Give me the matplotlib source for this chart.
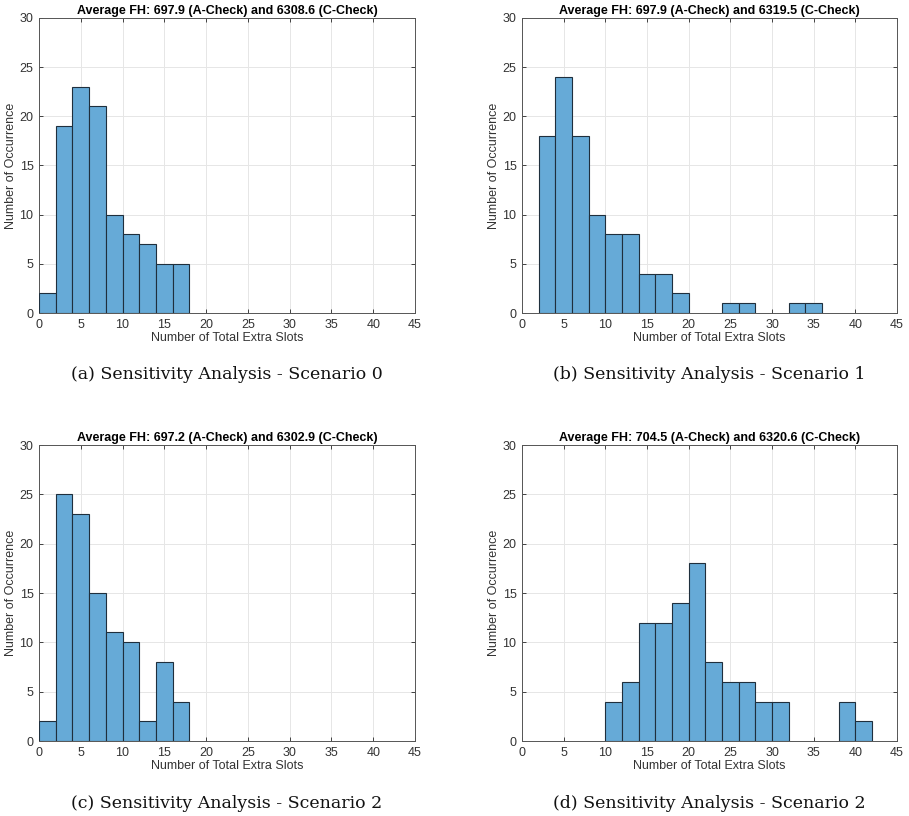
"""Histograms of total extra slots for the sensitivity-analysis scenarios."""
import numpy as np
import matplotlib
matplotlib.use("Agg")
import matplotlib.pyplot as plt

BIN_WIDTH = 2

# counts per 2-slot bin, starting at the given left edge
start_a = 0
counts_a = [2, 19, 23, 21, 10, 8, 7, 5, 5]
start_b = 2
counts_b = [18, 24, 18, 10, 8, 8, 4, 4, 2, 0, 0, 1, 1, 0, 0, 1, 1]
start_c = 0
counts_c = [2, 25, 23, 15, 11, 10, 2, 8, 4]
start_d = 10
counts_d = [4, 6, 12, 12, 14, 18, 8, 6, 6, 4, 4, 0, 0, 0, 4, 2]

titles = [
    "Average FH: 697.9 (A-Check) and 6308.6 (C-Check)",
    "Average FH: 697.9 (A-Check) and 6319.5 (C-Check)",
    "Average FH: 697.2 (A-Check) and 6302.9 (C-Check)",
    "Average FH: 704.5 (A-Check) and 6320.6 (C-Check)",
]
captions = [
    "(a) Sensitivity Analysis - Scenario 0",
    "(b) Sensitivity Analysis - Scenario 1",
    "(c) Sensitivity Analysis - Scenario 2",
    "(d) Sensitivity Analysis - Scenario 2",
]
x_ticks = list(range(0, 46, 5))
y_ticks = list(range(0, 31, 5))

FACE = "#66aad7"
AXC = "#262626"
W, H = 909, 816

plt.rcParams["font.family"] = ["Liberation Sans", "DejaVu Sans"]

fig = plt.figure(figsize=(W / 100, H / 100), dpi=100)

# axes boxes in pixels: left, top, right, bottom
boxes = [
    (39, 18, 415, 313),
    (522, 18, 897, 313),
    (39, 445, 415, 741),
    (522, 445, 897, 741),
]
data = [(start_a, counts_a), (start_b, counts_b),
        (start_c, counts_c), (start_d, counts_d)]

for (l, t, r, b), (start, counts), title, cap in zip(boxes, data, titles, captions):
    ax = fig.add_axes([l / W, 1 - b / H, (r - l) / W, (b - t) / H])
    counts = np.asarray(counts)
    edges = start + BIN_WIDTH * np.arange(len(counts))
    keep = counts > 0
    ax.bar(edges[keep], counts[keep], width=BIN_WIDTH, align="edge",
           color=FACE, edgecolor="#1f2f3d", linewidth=0.8, zorder=3)

    ax.set_xlim(0, 45)
    ax.set_ylim(0, 30)
    ax.set_xticks(x_ticks)
    ax.set_yticks(y_ticks)
    ax.grid(True, color="#e6e6e6", linewidth=0.7, zorder=0)
    ax.tick_params(direction="in", length=3, width=0.6, colors=AXC,
                   labelcolor="#333333", labelsize=9, top=True, right=True,
                   pad=4)
    for sp in ax.spines.values():
        sp.set_color("#555555")
        sp.set_linewidth(0.7)
    ax.set_xlabel("Number of Total Extra Slots", fontsize=9, color="#333333",
                  labelpad=1)
    ax.set_ylabel("Number of Occurrence", fontsize=9, color="#333333",
                  labelpad=2)
    ax.set_title(title, fontsize=9, fontweight="bold", pad=3)

    fig.text((l + r) / 2 / W, 1 - (b + 62) / H, cap, ha="center", va="center",
             fontsize=12.5, family="DejaVu Serif", color="#111111")

fig.savefig("out.png", dpi=100, facecolor="white")
